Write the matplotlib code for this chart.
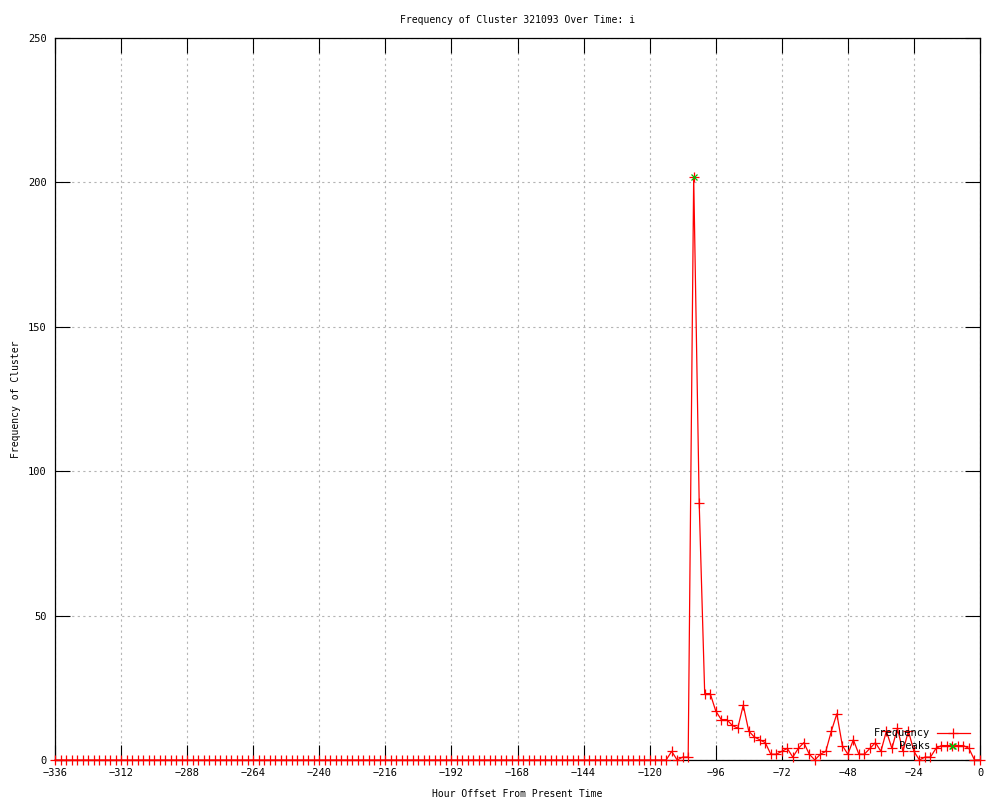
import numpy as np
import matplotlib
matplotlib.use("Agg")
import matplotlib.pyplot as plt
from matplotlib.lines import Line2D

plt.rcParams['font.family'] = ['DejaVu Sans Mono']
plt.rcParams['font.size'] = 7

# hour offsets, one sample every 2 hours
hours = np.arange(-336, 1, 2)

# frequency values (-336 .. -114 are all zero)
freq_quiet = [
    0, 0, 0, 0, 0, 0, 0, 0, 0, 0, 0, 0, 0, 0, 0, 0,
    0, 0, 0, 0, 0, 0, 0, 0, 0, 0, 0, 0, 0, 0, 0, 0,
    0, 0, 0, 0, 0, 0, 0, 0, 0, 0, 0, 0, 0, 0, 0, 0,
    0, 0, 0, 0, 0, 0, 0, 0, 0, 0, 0, 0, 0, 0, 0, 0,
    0, 0, 0, 0, 0, 0, 0, 0, 0, 0, 0, 0, 0, 0, 0, 0,
    0, 0, 0, 0, 0, 0, 0, 0, 0, 0, 0, 0, 0, 0, 0, 0,
    0, 0, 0, 0, 0, 0, 0, 0, 0, 0, 0, 0, 0, 0, 0, 0,
]
# -112 .. 0
freq_active = [
    3, 0, 1, 1, 202, 89, 23, 23, 17, 14, 14, 12, 11, 19, 10, 8,
    7, 6, 2, 2, 3, 4, 1, 4, 6, 2, 0, 2, 3, 10, 16, 5,
    2, 7, 2, 2, 4, 6, 3, 10, 4, 11, 3, 10, 3, 0, 1, 1,
    4, 5, 5, 5, 5, 5, 4, 0, 0,
]
freq = freq_quiet + freq_active

peak_hours = [-104, -10]
peak_vals = [202, 5]

xticks = list(range(-336, 1, 24))
yticks = [0, 50, 100, 150, 200, 250]

fig = plt.figure(figsize=(10, 8), dpi=100)
ax = fig.add_axes([0.055, 0.05, 0.925, 0.9025])

ax.plot(hours, freq, color="red", lw=0.9, marker="+", ms=6.5, mew=0.9,
        clip_on=False, zorder=3)
ax.plot(peak_hours, peak_vals, ls="none", color="#00c000", marker="x",
        ms=5, mew=0.9, clip_on=False, zorder=4)

ax.set_xlim(-336, 0)
ax.set_ylim(0, 250)
ax.set_xticks(xticks)
ax.set_xticklabels([str(t).replace("-", "\u2212") for t in xticks])
ax.set_yticks(yticks)

ax.grid(True, color="#b4b4b4", lw=0.8, ls=(0, (2, 3)))
ax.tick_params(direction="in", length=11, width=0.8, top=True, right=True,
               labelsize=7.5, pad=6, colors="black")
for s in ax.spines.values():
    s.set_linewidth(0.9)

ax.set_title("Frequency of Cluster 321093 Over Time: i", fontsize=7, pad=11)
ax.set_xlabel("Hour Offset From Present Time", fontsize=7, labelpad=8)
ax.set_ylabel("Frequency of Cluster", fontsize=7)
ax.yaxis.set_label_coords(-0.037, 0.5)

# gnuplot style key, bottom right
ax.text(0.946, 0.0374, "Frequency", transform=ax.transAxes, ha="right",
        va="center", fontsize=7.5, zorder=5)
ax.add_line(Line2D([0.953, 0.989], [0.0374, 0.0374], transform=ax.transAxes,
                   color="red", lw=0.9, zorder=5))
ax.add_line(Line2D([0.971], [0.0374], transform=ax.transAxes, color="red",
                   marker="+", ms=6.5, mew=0.9, zorder=5))
ax.text(0.946, 0.0194, "Peaks", transform=ax.transAxes, ha="right",
        va="center", fontsize=7.5, zorder=5)
ax.add_line(Line2D([0.971], [0.0194], transform=ax.transAxes, color="#00c000",
                   marker="x", ms=5, mew=0.9, zorder=2))

fig.savefig("out.png", dpi=100)
